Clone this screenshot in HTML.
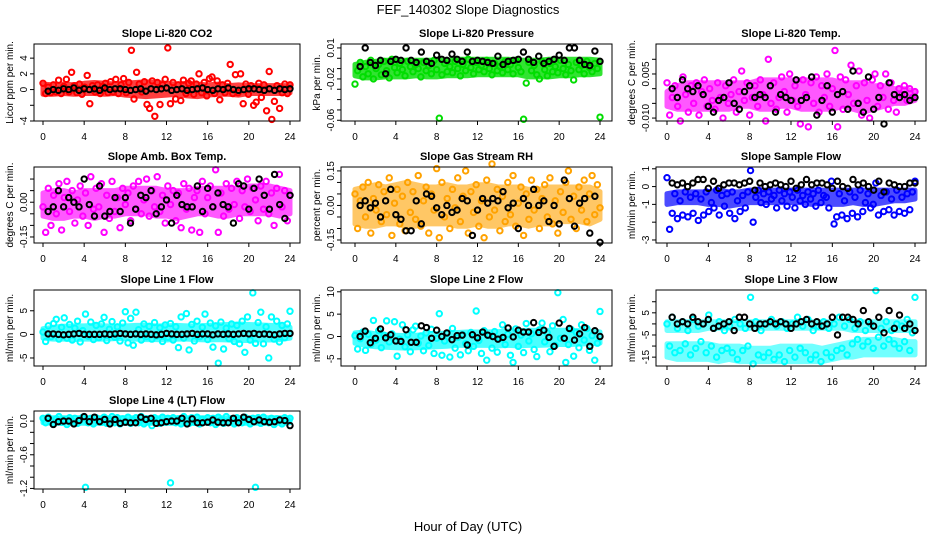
<!DOCTYPE html>
<html><head><meta charset="utf-8"><style>
html,body{margin:0;padding:0;background:#fff;}
svg{display:block;font-family:"Liberation Sans",Arial,sans-serif;}
</style></head><body>
<svg id="chart" width="936" height="540" viewBox="0 0 936 540">
<rect width="936" height="540" fill="#fff"/>
<text x="468" y="14" text-anchor="middle" font-size="13">FEF_140302  Slope Diagnostics</text>
<text x="468" y="531" text-anchor="middle" font-size="13">Hour of Day (UTC)</text>
</svg>
<script>
// ---- data arrays (hourly slopes) ----
const xTicks = [0,4,8,12,16,20,24];
const co2Main = [0.8,-0.5,0.3,-0.4,0.6,-0.3,1.2,-0.5,0.4,1.3,-0.3,2.2,0.5,-0.4,0.7,-0.6,0.3,1.8,-1.8,0.5,-0.3,0.6,-0.5,0.4,
0.8,-0.4,1.0,-0.3,1.3,-0.5,0.6,1.4,-0.4,0.9,5.0,-1.2,2.2,0.7,-0.3,1.0,-1.9,-2.4,1.1,-3.4,0.9,-1.9,0.6,1.3,
5.3,-1.8,0.9,-1.2,0.6,-1.4,1.2,-0.5,0.8,1.1,-0.6,0.7,2.0,-0.4,0.9,-0.8,1.4,1.6,-0.5,1.1,-1.3,0.6,-0.4,0.8,
3.2,-0.5,1.9,-0.4,2.0,-1.8,0.7,-0.6,0.5,-2.0,-1.6,0.8,-1.0,0.6,-2.7,2.3,-3.8,-1.5,0.5,-2.4,-0.4,0.7,-0.5,0.6];
const co2Ref = [-0.2,0,-0.1,0.1,0,0.2,-0.1,0.1,0,0.1,-0.1,0.2,0,0.1,0.1,0,-0.1,0,0.1,-0.2,0.1,0,0.1,0.2,-0.1,0,0.1,-0.1,0,0.1,0.2,0,-0.1,0.1,0,0.2,0,-0.1,0,0.1,0.1,0,-0.1,0.1,-0.1,0.1,0,0.1];
const co2BandLo = [-0.6,-0.6,-0.5,-0.6,-0.5,-0.5,-0.6,-0.5,-0.7,-0.8,-0.9,-0.8,-0.7,-0.6,-0.8,-0.9,-0.7,-0.6,-0.6,-0.7,-0.5,-0.5,-0.5,-0.5,-0.4];
const co2BandHi = [0.7,0.6,0.7,0.6,0.8,0.9,0.8,0.7,0.8,0.9,1.0,0.9,0.8,0.7,0.8,0.7,0.6,0.7,0.5,0.6,0.5,0.5,0.5,0.5,0.5];
const presMain = [-0.025,-0.012,-0.004,-0.018,-0.008,-0.015,-0.002,-0.02,-0.01,-0.006,-0.016,-0.003,-0.012,-0.019,-0.001,-0.009,-0.014,-0.005,-0.011,-0.017,-0.003,-0.008,-0.013,-0.006,
-0.01,-0.018,-0.004,-0.012,-0.007,-0.015,-0.002,-0.011,-0.058,-0.016,-0.005,-0.013,-0.008,-0.014,-0.003,-0.01,-0.017,-0.006,-0.012,-0.001,-0.009,-0.015,-0.004,-0.011,
-0.007,-0.013,-0.002,-0.01,-0.016,-0.005,-0.012,-0.008,-0.014,-0.003,-0.011,-0.006,-0.015,-0.002,-0.009,-0.013,-0.059,-0.024,-0.004,-0.012,-0.007,-0.016,-0.02,-0.003,
-0.011,-0.017,-0.005,-0.013,-0.008,-0.014,-0.002,-0.01,-0.016,-0.006,-0.012,-0.021,-0.004,-0.011,-0.007,-0.015,-0.003,-0.009,-0.013,-0.005,-0.01,-0.057];
const presRef = [-0.008,0.01,-0.004,-0.007,-0.002,-0.015,-0.003,-0.001,-0.002,0.01,-0.002,-0.004,0.006,-0.003,-0.005,0.003,-0.001,-0.002,0.004,-0.001,-0.003,0.006,-0.003,-0.002,-0.003,-0.004,-0.005,0.002,-0.006,-0.003,-0.002,-0.001,0.006,-0.001,-0.004,0.002,-0.005,-0.003,-0.001,0.003,-0.002,0.01,0.01,-0.002,-0.006,-0.007,0.007,-0.003];
const presBandLo = [-0.017,-0.019,-0.019,-0.018,-0.018,-0.018,-0.017,-0.018,-0.018,-0.017,-0.017,-0.017,-0.016,-0.016,-0.016,-0.016,-0.016,-0.018,-0.018,-0.018,-0.017,-0.017,-0.016,-0.016,-0.015];
const presBandHi = [-0.006,-0.004,-0.003,-0.002,-0.002,-0.002,-0.002,-0.002,-0.002,-0.002,-0.001,-0.001,-0.001,-0.001,-0.001,-0.001,-0.002,-0.002,-0.002,-0.001,-0.001,-0.001,-0.001,-0.001,-0.002];
const tempMain = [0.002,-0.009,-0.003,0.001,-0.006,-0.011,0.004,-0.002,-0.008,0.001,-0.005,0.002,-0.009,-0.001,0.003,-0.006,0,-0.004,-0.007,0.002,-0.003,-0.01,0.001,-0.005,
-0.002,0.003,-0.008,-0.001,0.006,-0.004,0.002,-0.009,-0.003,0.001,-0.006,0.003,-0.002,-0.011,0.01,-0.005,0.002,-0.007,-0.003,0.004,-0.001,-0.008,0.005,-0.004,
0.001,-0.006,-0.012,0.003,-0.002,-0.013,0.002,-0.005,0.004,-0.008,0.001,-0.003,0.005,-0.006,0,0.013,-0.013,0.004,-0.007,0.003,-0.002,0.008,-0.005,0.001,
0.006,-0.009,0.002,-0.004,-0.01,0.003,0.005,-0.006,0.001,-0.003,0.005,-0.007,0.002,-0.004,-0.008,0,-0.002,0.001,-0.004,0,-0.003,-0.001];
const tempRef = [0,-0.003,0.003,0,-0.001,0.001,-0.002,-0.006,-0.008,-0.004,-0.003,0.002,-0.005,-0.007,-0.001,0.001,-0.003,-0.002,-0.003,0.001,-0.008,-0.002,-0.003,-0.004,0.003,-0.004,-0.003,0.004,-0.009,-0.004,0.001,-0.008,-0.002,-0.001,-0.007,0.006,-0.005,-0.008,0.004,-0.007,-0.003,-0.012,0.002,-0.002,-0.003,-0.002,-0.004,-0.003];
const tempBandLo = [-0.006,-0.007,-0.007,-0.007,-0.007,-0.007,-0.007,-0.006,-0.006,-0.007,-0.007,-0.006,-0.006,-0.007,-0.007,-0.007,-0.007,-0.006,-0.007,-0.008,-0.007,-0.006,-0.005,-0.005,-0.004];
const tempBandHi = [-0.001,0.001,0.002,0.002,0.002,0.002,0.002,0.002,0.002,0.003,0.003,0.003,0.003,0.003,0.003,0.003,0.003,0.002,0.002,0.002,0.001,0.001,0,0,-0.001];
const boxMain = [-0.02,-0.13,0.06,-0.1,0.03,-0.05,0.08,-0.12,0.02,0.09,-0.04,0.05,-0.09,0.01,0.07,-0.06,0.04,-0.1,0.11,-0.03,0.06,-0.02,0.08,-0.13,
0.03,-0.07,0.09,-0.04,0.02,-0.11,0.06,-0.01,0.04,-0.08,0.07,-0.03,0.09,-0.05,0.01,0.1,-0.06,0.05,-0.02,0.11,-0.04,0.03,-0.09,0.07,
-0.01,0.05,-0.08,0.04,-0.11,0.08,-0.03,0.06,-0.12,0.02,0.05,-0.13,0.09,-0.05,0.02,0.07,-0.02,0.14,-0.13,0.04,-0.06,0.08,-0.03,0.06,
-0.01,0.09,-0.07,0.05,-0.02,0.1,-0.04,0.06,0.01,-0.08,0.07,-0.03,0.09,-0.05,0.04,-0.1,0.06,0.12,-0.02,0.05,-0.08,0.03];
const boxRef = [-0.04,-0.02,0.05,-0.02,0.02,0,-0.02,0.1,-0.01,-0.06,0.07,-0.06,-0.04,0.02,-0.04,0.02,-0.09,-0.03,0.03,0.02,0.05,-0.05,-0.02,0.01,-0.09,0.03,-0.01,-0.02,-0.02,0.07,-0.04,0.06,-0.02,0.04,-0.01,-0.02,-0.09,0.08,0.07,-0.03,0.06,0.1,0.03,-0.03,0.12,-0.01,-0.07,0.03];
const boxBandLo = [-0.06,-0.07,-0.07,-0.06,-0.06,-0.07,-0.06,-0.06,-0.05,-0.05,-0.05,-0.06,-0.06,-0.07,-0.06,-0.05,-0.05,-0.06,-0.06,-0.05,-0.05,-0.05,-0.05,-0.06,-0.05];
const boxBandHi = [0.04,0.05,0.05,0.04,0.05,0.05,0.05,0.05,0.06,0.06,0.06,0.06,0.05,0.05,0.05,0.06,0.06,0.06,0.06,0.06,0.07,0.07,0.07,0.06,0.05];
const rhMain = [0.05,-0.1,0.02,0.08,-0.05,0.1,-0.12,0.03,-0.02,0.09,-0.07,0.06,-0.04,0.12,-0.13,0.01,0.07,-0.08,0.04,-0.11,0.1,-0.03,0.06,-0.06,
0.13,-0.09,0.02,0.08,-0.12,0.05,-0.02,0.16,-0.14,0.1,-0.05,0.03,-0.1,0.07,-0.01,0.12,-0.07,0.04,0.15,-0.12,0.06,-0.03,0.09,-0.09,
0.02,-0.14,0.11,-0.05,0.18,-0.02,0.07,-0.11,0.04,-0.07,0.1,-0.04,0.13,-0.09,0.01,0.08,-0.13,0.05,-0.06,0.11,-0.02,0.07,-0.1,0.03,
0.09,-0.05,0.12,-0.08,0.02,-0.12,0.06,-0.03,0.1,0.15,-0.06,0.04,-0.1,0.08,-0.02,0.11,-0.07,0.05,0.13,-0.04,0.09,-0.01];
const rhRef = [0,0.02,-0.01,0.01,-0.05,0.02,0.07,-0.04,-0.06,-0.11,-0.11,0.02,-0.08,0.05,0.04,-0.01,-0.04,0,-0.03,-0.02,0.03,0.02,-0.13,-0.02,0.03,0.01,0.03,0.02,0.06,-0.01,0.01,-0.1,0.03,0,0.07,0,0.02,-0.07,0,-0.08,0.11,0.03,-0.09,0.01,0.03,-0.12,0.04,-0.16];
const rhBandLo = [-0.08,-0.09,-0.09,-0.08,-0.08,-0.09,-0.09,-0.08,-0.08,-0.08,-0.09,-0.09,-0.08,-0.09,-0.09,-0.08,-0.08,-0.09,-0.08,-0.08,-0.07,-0.07,-0.07,-0.08,-0.06];
const rhBandHi = [0.07,0.08,0.09,0.08,0.09,0.1,0.09,0.08,0.08,0.09,0.08,0.08,0.09,0.09,0.08,0.08,0.08,0.07,0.07,0.08,0.08,0.08,0.08,0.08,0.06];
const sampMain = [0.5,-2.4,-1.5,-0.4,-1.8,-0.8,-1.6,-0.3,-1.7,-0.6,-1.5,-0.4,-1.9,-0.7,-1.6,-0.3,-1.4,-0.9,-1.2,-0.2,-1.6,-0.5,-1.1,-0.4,
-1.5,-0.3,-1.8,-0.8,-1.4,-0.5,-1.2,-0.3,0.9,-2.0,-0.6,-0.2,-0.9,-0.4,-1.0,-0.3,-0.7,-0.5,-1.2,-0.2,-0.8,-0.4,-1.1,-0.3,
-0.6,-1.2,-0.2,-0.8,-0.5,-1.0,-0.3,-0.7,-0.4,-1.1,-0.2,-0.9,-0.5,-0.6,-1.2,0.3,-2.1,-1.7,-0.4,-1.6,-0.8,-1.8,-0.3,-1.5,
-0.6,-1.7,-0.2,-1.4,-0.9,-0.4,-1.2,-1.0,0.2,-1.6,-0.5,-1.4,-0.3,-1.3,-0.7,-1.6,-0.2,-1.4,-0.6,-1.5,-0.4,-1.3,-0.3,0.3];
const sampRef = [0.2,0.1,0.2,0,0.2,0.4,0.4,-0.1,0.3,-0.1,0.1,0.2,0.2,0.1,0.2,0.3,-0.2,0.2,0,0.1,0.2,0.1,0,0.3,-0.1,0.1,0.4,0.1,0.2,0.2,0.1,-0.1,0.3,0,-0.1,0.4,0.1,0.2,0,-0.2,0.3,-0.3,0.2,0.1,0,0,0.2,0.2];
const sampBandLo = [-1.0,-0.9,-0.9,-0.9,-1.0,-1.0,-1.1,-1.0,-0.9,-0.9,-0.9,-0.9,-0.9,-0.9,-1.0,-0.9,-1.0,-1.0,-0.9,-1.0,-1.0,-0.9,-0.8,-0.8,-0.7];
const sampBandHi = [-0.4,-0.3,-0.3,-0.3,-0.3,-0.2,-0.3,-0.3,-0.2,-0.2,-0.2,-0.2,-0.2,-0.2,-0.2,-0.2,-0.2,-0.2,-0.2,-0.2,-0.2,-0.2,-0.2,-0.2,-0.2];
const l1Main = [0.5,-1.5,1.8,-0.5,2.3,3.2,-1.0,1.5,3.5,-0.8,2.1,-1.2,1.3,2.8,-1.6,0.8,4.3,-0.4,2.6,-1.1,1.9,-0.7,2.2,3.6,
-1.3,1.1,2.7,-0.6,1.6,-1.4,2.4,4.8,-1.8,3.4,-2.3,4.7,1.0,-1.2,2.2,-0.5,1.7,-1.0,2.5,-0.3,1.4,-1.5,2.0,-0.6,
2.3,-1.2,1.6,-2.8,3.7,-0.8,4.4,-3.3,2.1,-1.4,2.8,-0.5,1.5,4.3,-1.1,2.4,-2.7,1.8,-6.1,2.6,-3.1,1.3,-0.9,2.2,
-1.5,1.9,-2.0,2.8,-3.8,3.7,-1.2,8.8,-1.9,2.5,4.7,-2.0,1.6,-5.0,3.7,-1.0,2.8,-1.6,1.9,-0.7,2.2,4.9];
const l1Ref = [0.1,0.1,0,-0.1,0,0.1,0.2,0,0,0,0,0.1,0,0.1,0.2,0.1,0,0.1,0,0.1,0,-0.1,0,0.2,0.1,0,0,0.1,0.2,0,0.1,0.1,-0.1,0.1,0,0.1,0,0.1,0.2,0.1,0.2,0,0.1,0,-0.1,0.1,0.2,0.2];
const l1BandLo = [-0.8,-1.0,-1.0,-1.1,-1.0,-1.0,-1.0,-0.9,-0.9,-1.0,-1.1,-1.1,-1.2,-1.0,-1.0,-1.1,-1.2,-1.1,-1.2,-1.3,-1.3,-1.2,-1.2,-1.1,-0.8];
const l1BandHi = [1.2,1.5,1.7,1.8,1.8,1.9,1.8,1.7,1.8,1.9,1.9,1.8,1.8,1.9,1.8,1.8,1.9,2.0,2.1,2.2,2.1,2.0,1.9,1.8,1.5];
const l2Main = [0.2,-2.8,-0.5,1.0,-3.1,0.5,-1.8,3.6,-0.8,1.3,-2.5,0.3,3.5,-1.2,0.6,3.3,-4.4,-0.6,2.6,-2.3,0.4,-3.4,1.5,2.3,
-1.5,0.1,-3.2,0.8,-2.0,1.6,-3.8,-0.4,5.1,-4.2,-1.0,0.7,-4.6,1.8,-2.6,-0.2,-4.1,0.4,-1.6,-3.2,0.9,-2.2,5.7,-0.9,
-3.8,1.3,-5.3,0.2,-2.6,1.1,-3.5,-0.5,2.6,-1.8,0.5,-4.2,-5.8,1.7,-2.2,0.3,-3.6,2.9,-1.0,0.6,-2.9,-4.5,1.5,3.0,
-1.2,0.8,-3.4,2.4,-2.0,9.8,-0.4,3.8,-5.8,-1.8,1.6,-4.4,0.9,-2.5,2.6,-0.8,1.8,-3.1,0.2,-5.3,-1.5,5.6];
const l2Ref = [0,1.2,-1.4,-0.4,1.7,-0.3,0.4,-1.0,-1.1,1.5,-1.3,-1.3,2.4,2.0,-0.4,1.4,0,0.8,-0.7,0.2,0.3,-1.9,0.4,-0.3,1.0,0.3,0,-0.6,-0.2,1.9,-0.1,1.4,1.0,1.0,3.1,0.9,1.4,-0.2,-2.2,3.0,-0.4,1.8,-0.8,0.6,2.0,-2.2,1.3,0];
const l2BandLo = [-1.5,-2.0,-2.3,-2.4,-2.5,-2.6,-2.5,-2.4,-2.3,-2.2,-2.0,-2.0,-2.0,-2.0,-2.1,-2.0,-2.1,-2.0,-2.0,-1.9,-1.8,-1.8,-1.7,-1.6,-1.5];
const l2BandHi = [0.8,1.0,0.6,0.4,0.3,0.2,0.3,0.5,0.6,0.8,0.9,1.0,1.0,1.0,1.1,1.2,1.3,1.4,1.4,1.4,1.4,1.4,1.3,1.2,1.0];
const l3Main = [0,-10,3,-13,-2,-12,1,-9,-3,-14,2,-11,-1,-8,0,-13,4,-10,-2,-15,1,-12,-3,-11,
-1,-13,2,-16,0,-12,-2,-10,12,-18,1,-14,-3,-15,0,-13,2,-16,-1,-14,1,-17,-2,-12,
0,-15,3,-11,-1,-13,2,-16,-3,-14,-1,-17,1,-13,-2,-15,0,-12,3,-11,-1,-14,2,-9,
-2,-7,1,-10,-3,-8,0,-11,15,-6,-2,-10,1,-7,-3,-9,0,-11,-1,-8,2,-12,-4,12];
const l3Ref = [3,0,1,0,3,1,0,2,-2,-1,0,1,-3,3,3,0,-2,0,0,1,0,1,0,-2,0,1,2,0,1,-1,0,3,-5,3,3,2,0,6,1,-1,3,-4,6,-2,4,-2,0,-3];
const l3BandLo = [-3,-3,-3,-3,-2,-2,-2,-2,-2,-2,-2,-2,-2,-2,-2,-2,-2,-2,-3,-3,-3,-3,-3,-3,-3];
const l3BandHi = [1,1,1,1,1,1,1,1,1,1,1,1,1,1,1,1,1,1,1,1,1,1,1,1,1];
const l3LowBandLo = [-15,-16,-16,-16,-16,-17,-16,-17,-17,-17,-17,-17,-17,-17,-17,-17,-16,-15,-15,-14,-14,-14,-14,-14,-14];
const l3LowBandHi = [-9,-9,-9,-9,-9,-10,-10,-10,-11,-11,-11,-10,-10,-10,-10,-11,-10,-9,-8,-7,-7,-7,-7,-8,-8];
const l4Main = [0.05,-0.03,0.07,0.01,-0.05,0.04,0.08,-0.02,0.03,-0.06,0.06,0,0.05,-0.04,0.02,0.07,-1.18,-0.03,0.05,-0.05,0.06,0.01,-0.02,0.07,
-0.04,0.03,0.08,-0.03,0.06,-0.05,0.04,0,0.07,-0.04,0.02,0.06,-0.03,0.08,-0.05,0.04,-0.01,-0.08,0.06,0.02,-0.04,0.07,-0.02,0.05,
-1.1,0.06,-0.03,0.04,-0.05,0.08,0.01,-0.04,0.06,-0.02,0.07,-0.05,0.03,0,0.06,-0.03,0.05,-0.06,0.07,0.02,-0.04,0.08,-0.02,0.04,
-0.05,0.06,0.01,-0.03,0.07,0.02,-0.05,0.05,-1.18,0.06,-0.04,0.07,0,-0.03,0.05,-0.06,0.04,0.02,-0.05,0.06,0.01,0.05];
const l4Ref = [0.05,-0.06,-0.01,0,0,-0.05,0.01,0.08,-0.01,0.07,-0.01,0.03,-0.05,0.03,-0.04,-0.02,-0.03,-0.03,0.07,0.03,0.05,-0.04,-0.03,-0.01,0,0,0.05,-0.05,0.04,-0.03,-0.03,-0.02,0.02,-0.02,-0.03,-0.03,0.05,-0.03,0.07,0.03,-0.01,0.02,-0.01,-0.02,-0.01,0.02,0.01,-0.08];
const l4BandLo = [-0.03,-0.04,-0.04,-0.04,-0.04,-0.04,-0.04,-0.04,-0.04,-0.04,-0.04,-0.04,-0.04,-0.04,-0.04,-0.04,-0.04,-0.04,-0.04,-0.04,-0.04,-0.04,-0.04,-0.04,-0.03];
const l4BandHi = [0.05,0.06,0.06,0.06,0.06,0.06,0.06,0.06,0.06,0.06,0.06,0.06,0.06,0.06,0.06,0.06,0.06,0.06,0.06,0.06,0.06,0.06,0.06,0.06,0.05];

const co2Ticks=[-4,-2,0,2,4], co2Labels=["-4","","0","2","4"];
const presTicks=[0.01,0,-0.01,-0.02,-0.03,-0.04,-0.05,-0.06], presLabels=["0.01","","","-0.02","","","","-0.06"];
const tempTicks=[0.01,0.005,0,-0.005,-0.01], tempLabels=["","0.005","","","-0.010"];
const boxTicks=[0.1,0.05,0,-0.05,-0.1,-0.15], boxLabels=["","","0.00","","","-0.15"];
const rhTicks=[0.15,0.1,0.05,0,-0.05,-0.1,-0.15], rhLabels=["0.15","","","0.00","","","-0.15"];
const sampTicks=[1,0,-1,-2,-3], sampLabels=["1","0","-1","","-3"];
const l1Ticks=[5,0,-5], l1Labels=["5","0","-5"];
const l2Ticks=[10,5,0,-5], l2Labels=["10","5","0","-5"];
const l3Ticks=[10,5,0,-5,-10,-15], l3Labels=["","5","","-5","","-15"];
const l4Ticks=[0,-0.2,-0.4,-0.6,-0.8,-1.0,-1.2], l4Labels=["0.0","","","-0.6","","","-1.2"];

const NS="http://www.w3.org/2000/svg";
const svg=document.getElementById('chart');
const cols=[{l:34,r:300,x0:43,x24:290},{l:341,r:612,x0:355,x24:600},{l:656,r:926,x0:667,x24:915}];
const rows=[{t:44,b:121},{t:167,b:243},{t:290,b:366},{t:411,b:489}];
const panels=[
 {id:'co2',title:'Slope Li-820 CO2',yl:'Licor ppm per min.',c:0,r:0,top:5.8,bot:-4.0,main:co2Main,ref:co2Ref,bands:[[co2BandLo,co2BandHi]],col:'#ff0000',op:0.75,ticks:co2Ticks,labels:co2Labels},
 {id:'pressure',title:'Slope Li-820 Pressure',yl:'kPa per min.',c:1,r:0,top:0.0138,bot:-0.0607,main:presMain,ref:presRef,bands:[[presBandLo,presBandHi]],col:'#00dd00',op:0.8,ticks:presTicks,labels:presLabels},
 {id:'li820-temp',title:'Slope Li-820 Temp.',yl:'degrees C per min.',c:2,r:0,top:0.0152,bot:-0.011,main:tempMain,ref:tempRef,bands:[[tempBandLo,tempBandHi]],col:'#ff00ff',op:0.65,ticks:tempTicks,labels:tempLabels},
 {id:'box-temp',title:'Slope Amb. Box Temp.',yl:'degrees C per min.',c:0,r:1,top:0.152,bot:-0.176,main:boxMain,ref:boxRef,bands:[[boxBandLo,boxBandHi]],col:'#ff00ff',op:0.65,ticks:boxTicks,labels:boxLabels},
 {id:'gas-rh',title:'Slope Gas Stream RH',yl:'percent per min.',c:1,r:1,top:0.167,bot:-0.163,main:rhMain,ref:rhRef,bands:[[rhBandLo,rhBandHi]],col:'#ffa200',op:0.6,ticks:rhTicks,labels:rhLabels},
 {id:'sample-flow',title:'Slope Sample Flow',yl:'ml/min per min.',c:2,r:1,top:1.1,bot:-3.17,main:sampMain,ref:sampRef,bands:[[sampBandLo,sampBandHi]],col:'#0000ff',op:0.7,ticks:sampTicks,labels:sampLabels},
 {id:'line1-flow',title:'Slope Line 1 Flow',yl:'ml/min per min.',c:0,r:2,top:9.4,bot:-6.7,main:l1Main,ref:l1Ref,bands:[[l1BandLo,l1BandHi]],col:'#00ffff',op:0.7,ticks:l1Ticks,labels:l1Labels},
 {id:'line2-flow',title:'Slope Line 2 Flow',yl:'ml/min per min.',c:1,r:2,top:10.4,bot:-6.6,main:l2Main,ref:l2Ref,bands:[[l2BandLo,l2BandHi]],col:'#00ffff',op:0.7,ticks:l2Ticks,labels:l2Labels},
 {id:'line3-flow',title:'Slope Line 3 Flow',yl:'ml/min per min.',c:2,r:2,top:15.3,bot:-19,main:l3Main,ref:l3Ref,bands:[[l3BandLo,l3BandHi],[l3LowBandLo,l3LowBandHi]],col:'#00ffff',op:0.55,ticks:l3Ticks,labels:l3Labels},
 {id:'line4-flow',title:'Slope Line 4 (LT) Flow',yl:'ml/min per min.',c:0,r:3,top:0.18,bot:-1.21,main:l4Main,ref:l4Ref,bands:[[l4BandLo,l4BandHi]],col:'#00ffff',op:0.8,ticks:l4Ticks,labels:l4Labels}
];
function mk(tag,attrs,parent){const e=document.createElementNS(NS,tag);for(const k in attrs)e.setAttribute(k,attrs[k]);parent.appendChild(e);return e;}
panels.forEach(p=>{
 const C=cols[p.c],R=rows[p.r];
 const g=mk('g',{},svg);
 
 
 const xs=h=>C.x0+(C.x24-C.x0)*h/24;
 const ys=v=>R.t+(p.top-v)/(p.top-p.bot)*(R.b-R.t);
 const t=mk('text',{x:(C.l+C.r)/2,y:R.t-7,'text-anchor':'middle','font-size':'11','font-weight':'bold'},g);
 t.textContent=p.title;
 
 
 p.bands.forEach(([lo,hi])=>{
  const nb=lo.length;
  let d='';
  hi.forEach((v,i)=>{d+=(i?'L':'M')+xs(i*24/(nb-1)).toFixed(1)+','+ys(v).toFixed(1);});
  for(let i=nb-1;i>=0;i--){d+='L'+xs(i*24/(nb-1)).toFixed(1)+','+ys(lo[i]).toFixed(1);}
  const band=mk('path',{d:d+'Z',fill:p.col,stroke:p.col,'stroke-width':'5','stroke-linejoin':'round',opacity:p.op},g);
  
  
 });
 const pts=mk('g',{fill:'none','stroke-width':'2'},g);
 
 
 const n=p.main.length;
 p.main.forEach((v,i)=>{
  const c=mk('circle',{cx:xs(i*24/(n-1)),cy:ys(v),r:2.7,stroke:p.col},pts);
  
  
 });
 const m=p.ref.length;
 p.ref.forEach((v,i)=>{
  const c=mk('circle',{cx:xs(0.5+i*23.5/(m-1)),cy:ys(v),r:2.7,stroke:'#000'},pts);
  
  
 });
 const box=mk('rect',{x:C.l,y:R.t,width:C.r-C.l,height:R.b-R.t,fill:'none',stroke:'#000','stroke-width':'1'},g);
 
 
 xTicks.forEach(h=>{
  mk('line',{x1:xs(h),x2:xs(h),y1:R.b,y2:R.b+4,stroke:'#000'},g);
  const tl=mk('text',{x:xs(h),y:R.b+19,'text-anchor':'middle','font-size':'10'},g);
  tl.textContent=h;
  
  
 });
 p.ticks.forEach((v,i)=>{
  const y=ys(v);
  mk('line',{x1:C.l-4,x2:C.l,y1:y,y2:y,stroke:'#000'},g);
  if(p.labels[i]){
   const tl=mk('text',{x:0,y:0,'text-anchor':'middle','font-size':'10',transform:`translate(${C.l-7},${y}) rotate(-90)`},g);
   tl.textContent=p.labels[i];
   
   
  }
 });
 const yl=mk('text',{x:0,y:0,'text-anchor':'middle','font-size':'10',transform:`translate(${C.l-21},${(R.t+R.b)/2}) rotate(-90)`},g);
 yl.textContent=p.yl;
 
 
});
</script>
</body></html>
